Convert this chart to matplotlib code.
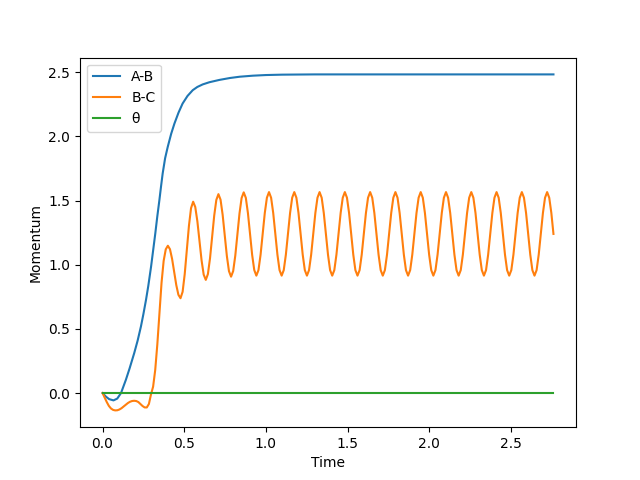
import matplotlib
matplotlib.use("Agg")
import matplotlib.pyplot as plt
import numpy as np

# sample grid of the run (215 steps up to the final time)
t_end = 2.76
n_steps = 215

ab_time = [0.0, 0.02, 0.04, 0.067, 0.09, 0.113, 0.143, 0.165, 0.194, 0.215,
           0.235, 0.25, 0.266, 0.28, 0.297, 0.31, 0.323, 0.335, 0.348, 0.358,
           0.368, 0.383, 0.399, 0.42, 0.44, 0.465, 0.49, 0.52, 0.552, 0.58,
           0.613, 0.654, 0.715, 0.78, 0.84, 0.92, 1.0, 1.1, 1.3, 2.76]
ab_momentum = [0.0, -0.027, -0.047, -0.057, -0.043, 0.0, 0.104, 0.19, 0.312, 0.41,
               0.519, 0.615, 0.726, 0.835, 0.985, 1.115, 1.245, 1.375, 1.504, 1.61,
               1.711, 1.83, 1.918, 2.02, 2.10, 2.185, 2.256, 2.315, 2.36, 2.385,
               2.405, 2.422, 2.44, 2.455, 2.465, 2.473, 2.478, 2.481, 2.483, 2.483]

# B-C momentum on the sample grid
bc_momentum = [
    0.0, -0.035, -0.07, -0.10, -0.12, -0.131, -0.135, -0.134, -0.128, -0.118,
    -0.105, -0.091, -0.078, -0.068, -0.062, -0.060, -0.062, -0.070, -0.085, -0.101,
    -0.112, -0.112, -0.085, -0.01, 0.05, 0.18, 0.38, 0.62, 0.86, 1.03,
    1.12, 1.148, 1.121, 1.046, 0.944, 0.841, 0.766, 0.739,
    0.789, 0.927, 1.115, 1.303, 1.441, 1.491,
    1.450, 1.339, 1.187, 1.034, 0.923, 0.882,
    0.927, 1.049, 1.216, 1.383, 1.505, 1.550,
    1.507, 1.389, 1.229, 1.068, 0.950, 0.907,
    0.951, 1.071, 1.236, 1.400, 1.520, 1.564,
    1.521, 1.402, 1.240, 1.077, 0.959, 0.915,
    0.958, 1.078, 1.240, 1.403, 1.522, 1.566, 1.522, 1.403, 1.240, 1.078, 0.958, 0.915,
    0.958, 1.078, 1.240, 1.403, 1.522, 1.566, 1.522, 1.403, 1.240, 1.078, 0.958, 0.915,
    0.958, 1.078, 1.240, 1.403, 1.522, 1.566, 1.522, 1.403, 1.240, 1.078, 0.958, 0.915,
    0.958, 1.078, 1.240, 1.403, 1.522, 1.566, 1.522, 1.403, 1.240, 1.078, 0.958, 0.915,
    0.958, 1.078, 1.240, 1.403, 1.522, 1.566, 1.522, 1.403, 1.240, 1.078, 0.958, 0.915,
    0.958, 1.078, 1.240, 1.403, 1.522, 1.566, 1.522, 1.403, 1.240, 1.078, 0.958, 0.915,
    0.958, 1.078, 1.240, 1.403, 1.522, 1.566, 1.522, 1.403, 1.240, 1.078, 0.958, 0.915,
    0.958, 1.078, 1.240, 1.403, 1.522, 1.566, 1.522, 1.403, 1.240, 1.078, 0.958, 0.915,
    0.958, 1.078, 1.240, 1.403, 1.522, 1.566, 1.522, 1.403, 1.240, 1.078, 0.958, 0.915,
    0.958, 1.078, 1.240, 1.403, 1.522, 1.566, 1.522, 1.403, 1.240, 1.078, 0.958, 0.915,
    0.958, 1.078, 1.240, 1.403, 1.522, 1.566, 1.522, 1.403, 1.240, 1.078, 0.958, 0.915,
    0.958, 1.078, 1.240, 1.403, 1.522, 1.566, 1.522, 1.403, 1.240,
]

# theta stays at zero the whole run
theta_momentum = [0.0] * n_steps

time = np.linspace(0, t_end, n_steps)

fig, ax = plt.subplots(figsize=(6.4, 4.8), dpi=100)
ax.plot(ab_time, ab_momentum, label='A-B')
ax.plot(time, bc_momentum, label='B-C')
ax.plot(time, theta_momentum, label='θ')

ax.set_xlabel('Time')
ax.set_ylabel('Momentum')
ax.legend(loc='upper left')

fig.savefig('out.png', dpi=100)
